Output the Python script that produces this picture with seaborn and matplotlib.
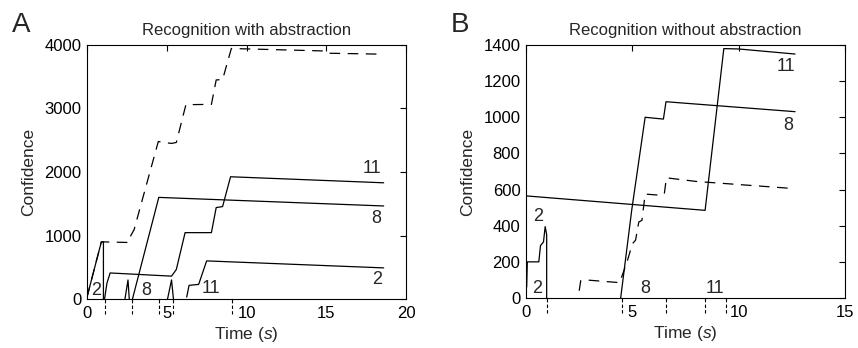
import pandas as pd
import matplotlib.pyplot as plt
import numpy as np
import seaborn as sns

sns.set_style('white')
plt.rcParams['font.family'] = ['Liberation Sans', 'DejaVu Sans']
plt.rcParams['mathtext.fontset'] = 'custom'
plt.rcParams['mathtext.it'] = 'Liberation Sans:italic'

# ---- panel A: recognition with abstraction ----
a11_t = [1.1, 1.25, 1.45, 5.3, 5.6, 6.15, 7.8, 8.1, 8.5, 9.0, 18.6]
a11_c = [0, 250, 410, 360, 465, 1045, 1045, 1440, 1455, 1925, 1830]
a8_t = [2.85, 4.5, 18.6]
a8_c = [0, 1600, 1465]
a2_t = [0, 0.9, 1.03, 1.03]
a2_c = [30, 900, 900, 0]
a2b_t = [6.25, 6.4, 7.0, 7.5, 18.6]
a2b_c = [30, 215, 230, 600, 490]
spike1_t = [2.38, 2.57, 2.65]
spike1_c = [0, 300, 0]
spike2_t = [5.05, 5.3, 5.42]
spike2_c = [0, 300, 0]
a_abs_t = [0, 0.9, 2.6, 2.75, 2.95, 4.47, 5.0, 5.3, 5.6, 6.2, 7.8, 8.1, 8.5, 9.05, 15.0, 15.2, 18.6]
a_abs_c = [30, 900, 890, 1000, 1090, 2480, 2460, 2450, 2465, 3060, 3065, 3450, 3455, 3945, 3905, 3870, 3855]
a_events = [1.1, 2.85, 4.5, 5.4, 9.1]
a_labels = ['2', '8', '11', '11', '8', '2']
a_lab_x = [0.6, 3.7, 7.75, 17.85, 18.15, 18.2]
a_lab_y = [140, 140, 170, 2060, 1270, 300]

# ---- panel B: recognition without abstraction ----
b11_t = [0, 8.42, 9.3, 10.0, 12.65]
b11_c = [565, 485, 1380, 1378, 1350]
b8_t = [4.45, 4.97, 5.6, 6.46, 6.58, 12.65]
b8_c = [0, 487, 1000, 990, 1086, 1031]
b2_t = [0.03, 0.06, 0.6, 0.68, 0.82, 0.9, 0.97, 0.97]
b2_c = [60, 200, 200, 290, 310, 395, 350, 0]
b_abs_t = [2.5, 2.57, 2.8, 4.4, 4.75, 5.0, 5.15, 5.3, 5.45, 5.6, 6.15, 6.5, 6.6, 8.0, 12.65]
b_abs_c = [40, 95, 100, 85, 200, 300, 320, 420, 430, 575, 570, 575, 665, 645, 605]
b_events = [0.97, 4.5, 6.6, 8.4, 9.4]
b_labels = ['2', '2', '8', '11', '11', '8']
b_lab_x = [0.5, 0.58, 5.6, 8.9, 12.2, 12.35]
b_lab_y = [55, 450, 55, 55, 1280, 957]


def segs(*pairs):
    rows = []
    for i, (t, c) in enumerate(pairs):
        rows.append(pd.DataFrame({'time': t, 'conf': c, 'seg': i}))
    return pd.concat(rows, ignore_index=True)


df_a = segs((a11_t, a11_c), (a8_t, a8_c), (a2_t, a2_c), (a2b_t, a2b_c),
            (spike1_t, spike1_c), (spike2_t, spike2_c))
df_a_abs = pd.DataFrame({'time': a_abs_t, 'conf': a_abs_c})
df_b = segs((b11_t, b11_c), (b8_t, b8_c), (b2_t, b2_c))
df_b_abs = pd.DataFrame({'time': b_abs_t, 'conf': b_abs_c})

fig = plt.figure(figsize=(8.58, 3.48), dpi=100)
ax_a = fig.add_axes([0.1014, 0.1408, 0.3718, 0.7299])
ax_b = fig.add_axes([0.6131, 0.1437, 0.3718, 0.7270])

dash = (0, (8.5, 6))

panels = [
    (ax_a, df_a, df_a_abs, a_events, a_labels, a_lab_x, a_lab_y,
     'Recognition with abstraction', 'A', (0, 20), (0, 4000), 1000),
    (ax_b, df_b, df_b_abs, b_events, b_labels, b_lab_x, b_lab_y,
     'Recognition without abstraction', 'B', (0, 15), (0, 1400), 200),
]

for ax, df, dfa, ev, labs, lx, ly, title, letter, xl, yl, ystep in panels:
    sns.lineplot(data=df, x='time', y='conf', units='seg', estimator=None,
                 sort=False, color='black', linewidth=0.9, ax=ax)
    sns.lineplot(data=dfa, x='time', y='conf', estimator=None, sort=False,
                 color='black', linewidth=0.9, linestyle=dash, ax=ax)
    ax.vlines(ev, -0.06, 0.0, transform=ax.get_xaxis_transform(),
              colors='black', linewidth=0.8, linestyles=(0, (3, 2)), clip_on=False)
    for s, x, y in zip(labs, lx, ly):
        ax.text(x, y, s, fontsize=13, ha='center', va='center')
    ax.set_xlim(*xl)
    ax.set_ylim(*yl)
    ax.set_xticks(np.arange(xl[0], xl[1] + 1, 5))
    ax.set_yticks(np.arange(yl[0], yl[1] + 1, ystep))
    ax.tick_params(direction='in', length=4, width=0.8, top=True, right=True,
                   labelsize=12, colors='black')
    ax.tick_params(axis='x', pad=5)
    ax.tick_params(axis='y', pad=4)
    for sp in ax.spines.values():
        sp.set_color('black')
        sp.set_linewidth(0.8)
    ax.set_title(title, fontsize=12, pad=7)
    ax.set_xlabel('Time ($s$)', fontsize=12.5, labelpad=3)
    ax.set_ylabel('Confidence', fontsize=12.5, labelpad=6)

fig.text(0.014, 0.965, 'A', fontsize=20, va='top')
fig.text(0.525, 0.965, 'B', fontsize=20, va='top')

fig.savefig('out.png', dpi=100)
